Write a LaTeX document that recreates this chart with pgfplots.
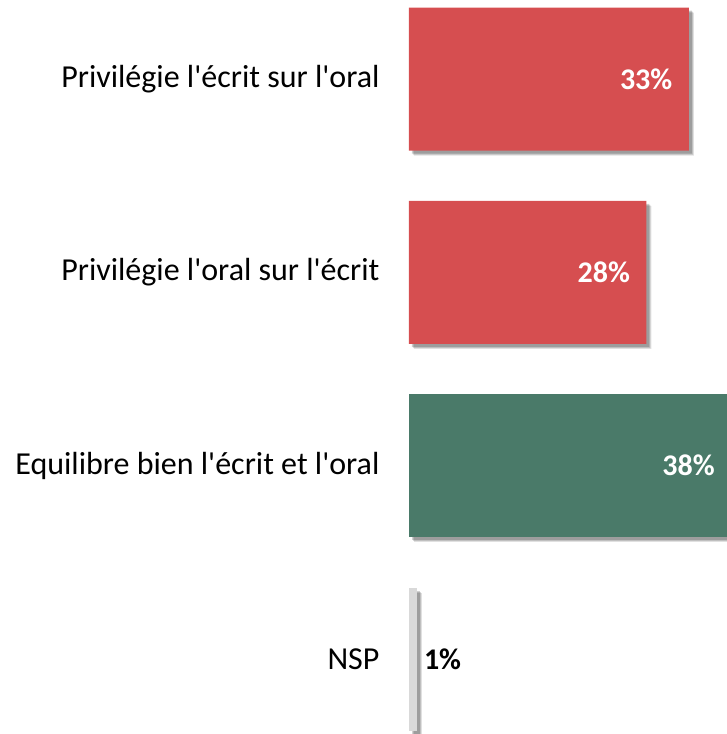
\documentclass[border=0pt]{standalone}
\usepackage{fontspec}
\setmainfont{Carlito}
\usepackage{pgfplots}
\pgfplotsset{compat=1.18}
\usetikzlibrary{shadows}
\definecolor{cred}{RGB}{214,78,80}
\definecolor{cgreen}{RGB}{74,122,105}
\definecolor{cgrey}{RGB}{217,217,217}
\newcommand\q{\textquotesingle}
\begin{document}
\begin{tikzpicture}
\begin{axis}[
  at={(409pt,0pt)}, anchor=south west,
  scale only axis, width=318pt, height=734pt,
  xbar, bar width=143pt, bar shift=0pt,
  xmin=0, xmax=37.5,
  y dir=reverse, ymin=-0.409, ymax=3.388,
  axis line style={draw=none},
  xtick=\empty,
  ytick={0,1,2,3},
  yticklabels={Privilégie l\q écrit sur l\q oral, Privilégie l\q oral sur l\q écrit, Equilibre bien l\q écrit et l\q oral, NSP},
  yticklabel style={font=\fontsize{32}{38}\selectfont, anchor=east, xshift=-26pt},
  major tick length=0pt,
  clip=false,
  /pgf/number format/assume math mode=true,
  nodes near coords={\pgfmathprintnumber{\pgfplotspointmeta}\%},
  nodes near coords style={font=\bfseries\fontsize{30}{36}\selectfont},
  every axis plot/.append style={draw=none,
    drop shadow={shadow xshift=5pt, shadow yshift=-5pt, opacity=0.12, fill=black},
    drop shadow={shadow xshift=4pt, shadow yshift=-4pt, opacity=0.15, fill=black},
    drop shadow={shadow xshift=3pt, shadow yshift=-3pt, opacity=0.18, fill=black}},
]
\addplot[fill=cred, nodes near coords style={anchor=east, text=white, xshift=-13pt}] coordinates {(33,0) (28,1)};
\addplot[fill=cgreen, nodes near coords style={anchor=east, text=white, xshift=-13pt}] coordinates {(38,2)};
\addplot[fill=cgrey, nodes near coords style={anchor=west, text=black, xshift=3pt}] coordinates {(1,3)};
\end{axis}
\pgfresetboundingbox
\useasboundingbox (0,0) rectangle (727pt,734pt);
\end{tikzpicture}
\end{document}
